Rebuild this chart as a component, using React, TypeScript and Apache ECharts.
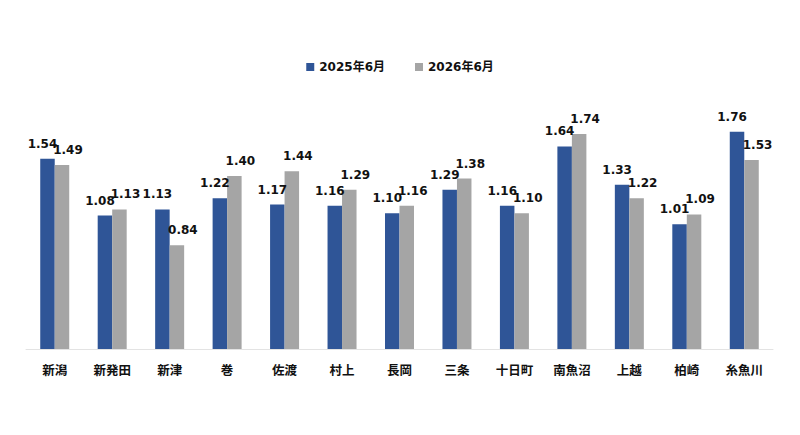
import React, { useEffect, useRef } from "react";
import * as echarts from "echarts";

const categories = ["新潟", "新発田", "新津", "巻", "佐渡", "村上", "長岡", "三条", "十日町", "南魚沼", "上越", "柏崎", "糸魚川"];
const series2025 = [1.54, 1.08, 1.13, 1.22, 1.17, 1.16, 1.10, 1.29, 1.16, 1.64, 1.33, 1.01, 1.76];
const series2026 = [1.49, 1.13, 0.84, 1.40, 1.44, 1.29, 1.16, 1.38, 1.10, 1.74, 1.22, 1.09, 1.53];
const seriesNames = ["2025年6月", "2026年6月"];

const NUM_FONT = "'DejaVu Sans', 'Noto Sans CJK JP', sans-serif";

export default function App() {
  const ref = useRef<HTMLDivElement>(null);
  useEffect(() => {
    if (!ref.current) return;
    const chart = echarts.init(ref.current, null, { renderer: "svg" });
    const labelBase = {
      show: true,
      position: "top",
      distance: 9,
      fontSize: 12,
      fontWeight: "bold",
      color: "#111",
      fontFamily: NUM_FONT,
      formatter: (p: any) => Number(p.value).toFixed(2),
    };
    chart.setOption({
      animation: false,
      backgroundColor: "#ffffff",
      legend: {
        top: 56,
        left: "center",
        itemWidth: 8,
        itemHeight: 8,
        itemGap: 30,
        icon: "rect",
        textStyle: { fontSize: 12, fontWeight: "bold", color: "#111", fontFamily: NUM_FONT },
        data: seriesNames,
      },
      grid: { left: 26, right: 27, top: 102, bottom: 86, containLabel: false },
      xAxis: {
        type: "category",
        data: categories,
        axisLine: { lineStyle: { color: "#E3E3E3", width: 1 } },
        axisTick: { show: false },
        axisLabel: {
          margin: 14,
          fontSize: 12.5,
          fontWeight: "bold",
          color: "#111",
          fontFamily: "'Noto Sans CJK JP', sans-serif",
          interval: 0,
        },
      },
      yAxis: {
        type: "value",
        min: 0,
        max: 2,
        show: false,
        splitLine: { show: false },
      },
      series: [
        {
          name: seriesNames[0],
          type: "bar",
          data: series2025,
          barWidth: 14.5,
          barGap: "0%",
          itemStyle: { color: "#2F5597" },
          label: { ...labelBase, offset: [-5, 0] },
        },
        {
          name: seriesNames[1],
          type: "bar",
          data: series2026,
          barWidth: 14.5,
          barGap: "0%",
          itemStyle: { color: "#A5A5A5" },
          label: { ...labelBase, offset: [6, 0] },
        },
      ],
    });
    return () => chart.dispose();
  }, []);
  return <div ref={ref} style={{ position: "fixed", left: 0, top: 0, width: 800, height: 435 }} />;
}
